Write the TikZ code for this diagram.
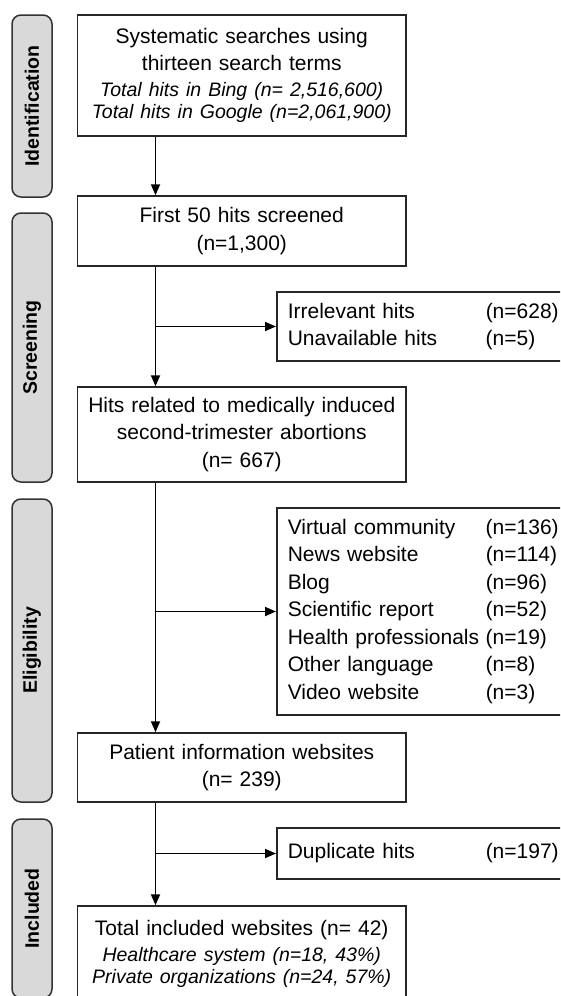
\documentclass[tikz,border=0pt]{standalone}
\usepackage{fontspec}
\setmainfont{Liberation Sans}
\usetikzlibrary{arrows.meta}

\begin{document}
\begin{tikzpicture}[x=1pt,y=-1pt,
  phase/.style={draw=black!80,fill=black!15,line width=1.5pt,rounded corners=9pt,rotate=90,
    minimum height=40pt,inner sep=0pt,font=\fontsize{19.5}{22}\selectfont\bfseries},
  box/.style={draw=black!85,line width=1.5pt,text width=310pt,align=center,
    inner xsep=9.25pt,inner ysep=0pt,font=\fontsize{21}{27.5}\selectfont},
  side/.style={draw=black!85,line width=1.5pt,anchor=west,text width=278pt,align=left,
    inner xsep=11pt,inner ysep=0pt,font=\fontsize{21}{27.5}\selectfont},
  flow/.style={line width=1.8pt,-{Triangle[length=11pt,width=9pt]}}]
\useasboundingbox (0,0) rectangle (560,996);
\clip (0,0) rectangle (560,996);

% phases
\node[phase,minimum width=182pt] (idf) at (32,106) {Identification};
\node[phase,minimum width=269pt] (scr) at (32,347.5) {Screening};
\node[phase,minimum width=303pt] (elg) at (32,650.5) {Eligibility};
\node[phase,minimum width=179pt] (inc) at (32,908.5) {Included};

% main boxes
\node[box,minimum height=121pt] (search) at (241.75,75.5) {Systematic searches using\\
  thirteen search terms\\[-1.5pt]
  \fontsize{19.5}{27.5}\selectfont\itshape Total hits in Bing (n= 2,516,600)\\[-5.5pt]
  Total hits in Google (n=2,061,900)};
\node[box,minimum height=70pt] (first) at (241.75,231) {First 50 hits screened\\ (n=1,300)};
\node[box,minimum height=95pt] (related) at (241.75,434.5) {Hits related to medically induced\\
  second-trimester abortions\\ (n= 667)};
\node[box,minimum height=69pt] (patient) at (241.75,767.5) {Patient information websites\\ (n= 239)};
\node[box,minimum height=95pt] (total) at (241.75,953.5) {Total included websites (n= 42)\\[-1.5pt]
  \fontsize{19.5}{27.5}\selectfont\itshape Healthcare system (n=18, 43\%)\\[-5.5pt]
  Private organizations (n=24, 57\%)};

% excluded boxes
\node[side,minimum height=69pt] (ex1) at (276,326.5) {\makebox[198pt][l]{Irrelevant hits}(n=628)\\
  \makebox[198pt][l]{Unavailable hits}(n=5)};
\node[side,minimum height=207pt] (ex2) at (276,611.5) {\makebox[198pt][l]{Virtual community}(n=136)\\
  \makebox[198pt][l]{News website}(n=114)\\
  \makebox[198pt][l]{Blog}(n=96)\\
  \makebox[198pt][l]{Scientific report}(n=52)\\
  \makebox[198pt][l]{Health professionals}(n=19)\\
  \makebox[198pt][l]{Other language}(n=8)\\
  \makebox[198pt][l]{Video website}(n=3)};
\node[side,minimum height=51pt] (ex3) at (276,853.5) {\makebox[198pt][l]{Duplicate hits}(n=197)};

\coordinate (c) at (155.5,0);

\draw[flow] (search.south -| c) -- (first.north -| c);
\draw[flow] (first.south -| c) -- (related.north -| c);
\draw[flow] (related.south -| c) -- (patient.north -| c);
\draw[flow] (patient.south -| c) -- (total.north -| c);

\draw[flow] (ex1.west -| c) -- (ex1.west);
\draw[flow] (ex2.west -| c) -- (ex2.west);
\draw[flow] (ex3.west -| c) -- (ex3.west);
\end{tikzpicture}
\end{document}
